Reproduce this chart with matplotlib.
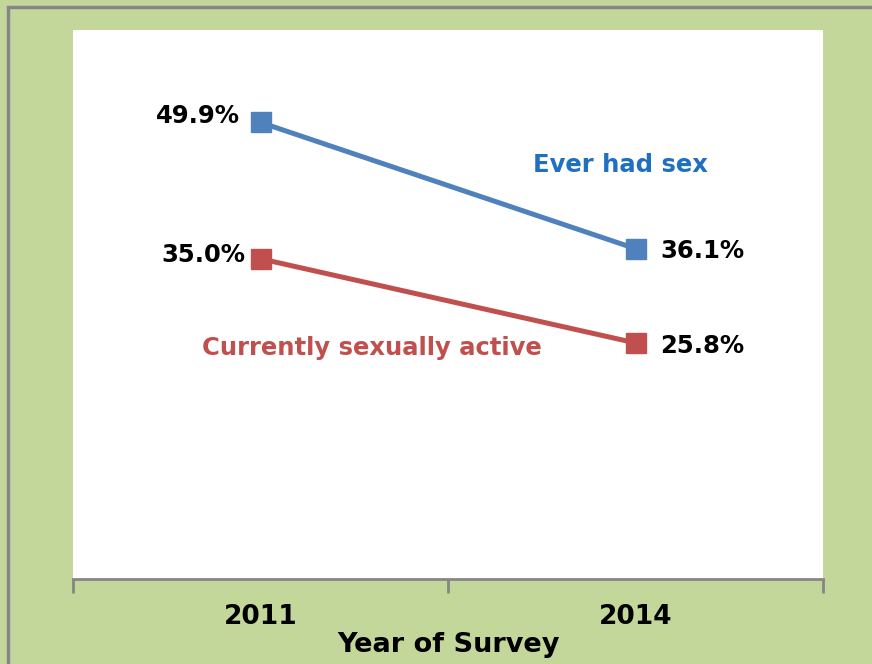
import matplotlib
matplotlib.use("Agg")
import matplotlib.pyplot as plt
from matplotlib.patches import Rectangle

years = ["2011", "2014"]
ever_had_sex = [49.9, 36.1]
currently_active = [35.0, 25.8]
ever_labels = ["49.9%", "36.1%"]
curr_labels = ["35.0%", "25.8%"]

BLUE = "#4F81BD"
RED = "#C0504D"
GREEN = "#C4D79B"
GRAY = "#868686"

W, H = 872, 664
fig = plt.figure(figsize=(W / 100, H / 100), dpi=100)
fig.patch.set_facecolor(GREEN)
# gray frame on left and top
fig.add_artist(Rectangle((8 / W, -0.1), 1.2, (H - 7) / H + 0.1, transform=fig.transFigure,
                         fill=False, edgecolor=GRAY, linewidth=2.5))

ax = fig.add_axes([73 / W, (H - 579) / H, 750 / W, (579 - 30) / H])
ax.set_facecolor("white")
x = list(range(len(years)))
ax.plot(x, ever_had_sex, color=BLUE, lw=3.6, marker="s", ms=14, zorder=3, solid_capstyle="butt")
ax.plot(x, currently_active, color=RED, lw=3.6, marker="s", ms=14, zorder=3, solid_capstyle="butt")
ax.set_xlim(-0.5, 1.5)
ax.set_ylim(0, 60)

for s in ["top", "right", "left"]:
    ax.spines[s].set_visible(False)
ax.spines["bottom"].set_color(GRAY)
ax.spines["bottom"].set_linewidth(2)
ax.set_yticks([])
ax.set_xticks([-0.5, 0.5, 1.5])
ax.set_xticklabels([])
ax.tick_params(axis="x", length=10, width=2, color=GRAY, direction="out")

font = dict(fontweight="bold", fontfamily="DejaVu Sans")
for xi, lab in zip(x, years):
    ax.annotate(lab, (xi, 0), xytext=(0, -38), textcoords="offset pixels",
                ha="center", va="center", fontsize=19, color="black", **font)
ax.text(0.5, -0.121, "Year of Survey", transform=ax.transAxes, ha="center", va="center",
        fontsize=19.5, color="black", **font)

LFS = 17.5
ax.annotate(ever_labels[0], (0, ever_had_sex[0]), xytext=(-21, 6), textcoords="offset pixels",
            ha="right", va="center", fontsize=LFS, color="black", **font)
ax.annotate(ever_labels[1], (1, ever_had_sex[1]), xytext=(25, -2), textcoords="offset pixels",
            ha="left", va="center", fontsize=LFS, color="black", **font)
ax.annotate(curr_labels[0], (0, currently_active[0]), xytext=(-15, 4), textcoords="offset pixels",
            ha="right", va="center", fontsize=LFS, color="black", **font)
ax.annotate(curr_labels[1], (1, currently_active[1]), xytext=(25, -3), textcoords="offset pixels",
            ha="left", va="center", fontsize=LFS, color="black", **font)

ax.text((620 - 73) / 750, (579 - 165) / 549, "Ever had sex", transform=ax.transAxes,
        ha="center", va="center", fontsize=17.5, color="#1F70C1", **font)
ax.text((372 - 73) / 750, (579 - 348) / 549, "Currently sexually active", transform=ax.transAxes,
        ha="center", va="center", fontsize=17.5, color=RED, **font)

fig.savefig("out.png", dpi=100, facecolor=GREEN)
